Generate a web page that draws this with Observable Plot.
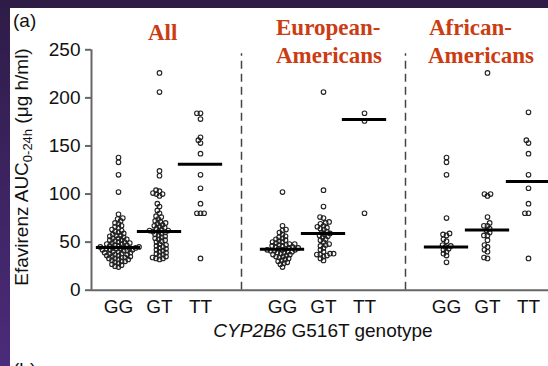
<!DOCTYPE html>
<html>
<head>
<meta charset="utf-8">
<script src="https://cdn.jsdelivr.net/npm/d3@7"></script>
<script src="https://cdn.jsdelivr.net/npm/@observablehq/plot@0.6"></script>
<style>
  html, body { margin: 0; padding: 0; background: #fff; }
  #wrap { position: relative; width: 548px; height: 366px; overflow: hidden; background: #fff; }
  #topbar { position: absolute; left: 0; top: 0; width: 548px; height: 8px; background: #2e1c47; }
  #leftbar { position: absolute; left: 0; top: 0; width: 10px; height: 366px; background: linear-gradient(#2e1c47, #4b2b7a); }
  svg { font-family: "Liberation Sans", Arial, sans-serif; }
</style>
</head>
<body>
<div id="wrap"><div id="chart"></div><div id="topbar"></div><div id="leftbar"></div></div>
<script>
// ---- data ----
const groups = ["All", "European-Americans", "African-Americans"];
const genotypes = ["GG", "GT", "TT"];
const yTicks = [0, 50, 100, 150, 200, 250];

const allGG = [138, 133, 120, 102,
  79, 75, 74, 72, 70, 69, 67, 66, 65, 63, 62, 61, 60, 59, 58, 57, 57, 56, 55, 54,
  54, 53, 52, 52, 51, 50, 50, 49, 49, 48, 48, 47, 47, 46, 46, 45, 45, 45, 44, 44,
  44, 43, 43, 43, 42, 42, 42, 41, 41, 40, 40, 39, 39, 38, 38, 37, 37, 36, 36, 35,
  35, 34, 34, 33, 33, 32, 32, 31, 30, 30, 29, 28, 27, 26, 25, 24];
const allGT = [226, 206, 124, 119,
  104, 103, 101, 100, 100, 98, 90, 87, 83, 80, 77, 76, 74, 72, 71, 70, 69, 68, 67, 66,
  65, 64, 63, 62, 62, 61, 61, 60, 59, 58, 57, 56, 55, 54, 53, 52, 51, 50, 48, 47,
  46, 45, 44, 43, 42, 41, 40, 39, 38, 37, 36, 35, 34, 33, 33, 32];
const allTT = [184, 184, 178, 159, 156, 153, 142, 120, 106, 90, 80, 80, 80, 33];

const eurGG = [102,
  67, 63, 62, 60, 58, 56, 55, 54, 53, 52, 51, 50, 50, 49, 48, 48, 47, 47, 46, 46,
  45, 45, 44, 44, 43, 43, 42, 42, 42, 41, 41, 40, 40, 39, 39, 38, 37, 37, 36, 35,
  35, 34, 33, 32, 31, 30, 29, 28, 27, 24];
const eurGT = [206, 104, 87, 76, 75, 71, 70, 69, 67, 66, 65, 64, 63, 61, 60, 59, 58,
  57, 56, 55, 53, 52, 50, 48, 47, 46, 44, 42, 40, 38, 38, 37, 37, 36, 35, 33, 31];
const eurTT = [184, 176, 80];

const afrGG = [138, 133, 120, 75, 59, 58, 57, 53, 51, 47, 46, 45, 43, 42, 40, 38, 36, 29];
const afrGT = [226, 100, 100, 98, 76, 70, 67, 67, 64, 62, 60, 57, 57, 52, 47, 45, 42, 40, 34, 33];
const afrTT = [185, 156, 153, 142, 120, 106, 90, 80, 80, 33];

// medians (horizontal bars)
const medians = [44.5, 61, 131, 42.5, 59, 177.5, 45, 62.5, 113];

const series = [allGG, allGT, allTT, eurGG, eurGT, eurTT, afrGG, afrGT, afrTT];

// ---- layout ----
const W = 548, H = 366;
const mL = 91, mR = 0, mT = 49.3, mB = 76.3;
const xDomain = [-27 / 41, 430 / 41];
const yDomain = [0, 250];
const pxPerX = (W - mL - mR) / (xDomain[1] - xDomain[0]);
const pxPerY = (H - mT - mB) / (yDomain[1] - yDomain[0]);

// slot index of each group/genotype (a blank slot between groups for the divider)
const slotOf = (gi, ti) => gi * 4 + ti;

// simple deterministic beeswarm in pixel space
function swarm(values, rc) {
  const order = d3.range(values.length).sort((a, b) => values[a] - values[b]);
  const placed = [];
  const out = new Array(values.length);
  const d2 = (2 * rc) * (2 * rc);
  for (const i of order) {
    const y = values[i] * pxPerY;
    const near = placed.filter(p => Math.abs(p.y - y) < 2 * rc);
    const cands = [0];
    for (const p of near) {
      const dx = Math.sqrt(Math.max(0, d2 - (p.y - y) ** 2));
      cands.push(p.x + dx + 1e-6, p.x - dx - 1e-6);
    }
    cands.sort((a, b) => Math.abs(a) - Math.abs(b) || a - b);
    let x = cands[0];
    for (const c of cands) {
      if (near.every(p => (p.x - c) ** 2 + (p.y - y) ** 2 >= d2 - 1e-4)) { x = c; break; }
    }
    placed.push({x, y});
    out[i] = x;
  }
  return out;
}

const points = [];
const medRows = [];
series.forEach((vals, k) => {
  const gi = Math.floor(k / 3), ti = k % 3;
  const slot = slotOf(gi, ti);
  const offs = swarm(vals, 1.8);
  vals.forEach((v, j) => points.push({x: slot + offs[j] / pxPerX, y: v}));
  medRows.push({x1: slot - 0.54, x2: slot + 0.54, y: medians[k]});
});

const tickSlots = [];
groups.forEach((g, gi) => genotypes.forEach((t, ti) => tickSlots.push(slotOf(gi, ti))));
const dividers = [slotOf(0, 3), slotOf(1, 3)];

const chart = Plot.plot({
  width: W, height: H,
  marginLeft: mL, marginRight: mR, marginTop: mT, marginBottom: mB,
  style: {background: "transparent", color: "#111", fontSize: "19px", fontFamily: "Liberation Sans, Arial, sans-serif", overflow: "visible"},
  x: {domain: xDomain},
  y: {domain: yDomain},
  marks: [
    Plot.ruleX(dividers, {y1: 0, y2: 246, stroke: "#444", strokeWidth: 1.5, strokeDasharray: "8,5"}),
    Plot.ruleY([0], {stroke: "#666", strokeWidth: 2}),
    Plot.ruleX([xDomain[0]], {y1: 0, y2: 250, stroke: "#666", strokeWidth: 2}),
    Plot.axisY({ticks: yTicks, tickSize: 6, tickPadding: 5, stroke: "#666", strokeWidth: 2, fill: "#111", fontSize: 19, label: null}),
    Plot.axisX({ticks: tickSlots, tickSize: 0, tickPadding: 9, tickFormat: d => genotypes[d % 4], fill: "#111", fontSize: 19, label: null}),
    Plot.dot(points, {x: "x", y: "y", r: 2.3, stroke: "#222", strokeWidth: 1.1, fill: "none"}),
    Plot.ruleY(medRows, {x1: "x1", x2: "x2", y: "y", stroke: "#000", strokeWidth: 3})
  ]
});
document.getElementById("chart").appendChild(chart);

// ---- annotations (real text) ----
const svg = d3.select(chart);
const serif = "Liberation Serif, 'Times New Roman', serif";
const titleColor = "#cc3c12";
const titleLines = [
  {t: "All", x: 148, y: 40},
  {t: "European-", x: 276, y: 35},
  {t: "Americans", x: 276, y: 63},
  {t: "African-", x: 429, y: 35},
  {t: "Americans", x: 428, y: 63}
];
svg.append("g").selectAll("text").data(titleLines).join("text")
  .attr("x", d => d.x).attr("y", d => d.y).attr("text-anchor", "start")
  .attr("fill", titleColor).attr("font-family", serif).attr("font-weight", "bold").attr("font-size", 23)
  .text(d => d.t);

svg.append("text").attr("x", 13).attr("y", 27).attr("text-anchor", "start").attr("font-size", 19).attr("fill", "#111").text("(a)");
svg.append("text").attr("x", 13).attr("y", 376).attr("text-anchor", "start").attr("font-size", 19).attr("fill", "#111").text("(b)");

const yl = svg.append("text").attr("transform", "translate(28,167) rotate(-90)")
  .attr("text-anchor", "middle").attr("font-size", 19).attr("fill", "#111");
yl.append("tspan").text("Efavirenz AUC");
yl.append("tspan").attr("font-size", 13).attr("dy", 4).text("0-24h");
yl.append("tspan").attr("dy", -4).text(" (\u03bcg h/ml)");

const xl = svg.append("text").attr("x", 323).attr("y", 337)
  .attr("text-anchor", "middle").attr("font-size", 19).attr("fill", "#111");
xl.append("tspan").attr("font-style", "italic").text("CYP2B6");
xl.append("tspan").text(" G516T genotype");
</script>
</body>
</html>
